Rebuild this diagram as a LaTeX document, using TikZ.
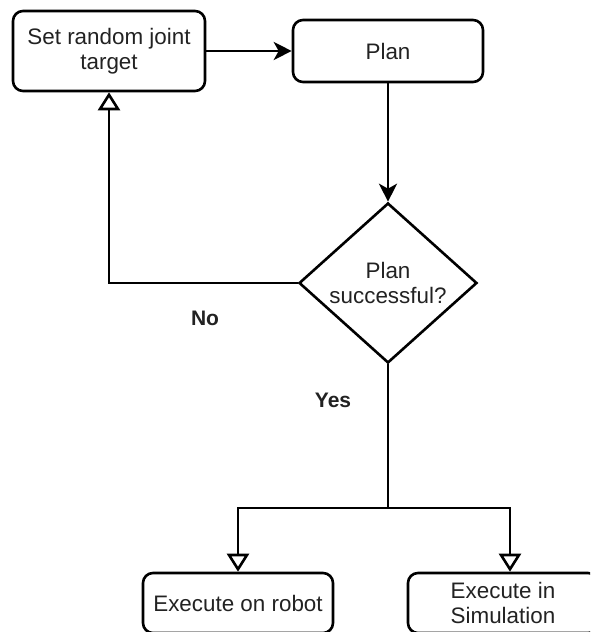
\documentclass[tikz,border=0pt]{standalone}
\usepackage{fontspec}
\setmainfont{Liberation Sans}
\usetikzlibrary{shapes.geometric,arrows.meta}
\definecolor{txt}{HTML}{222222}
\begin{document}
\begin{tikzpicture}[x=1pt,y=1pt,
  every node/.style={font=\fontsize{22.4}{25}\selectfont, text=txt},
  box/.style={draw, line width=2.6pt, rounded corners=10pt, align=center, inner sep=0pt},
  dec/.style={draw, line width=2.6pt, diamond, aspect=1.1125, minimum width=178pt, minimum height=160pt, inner sep=0pt, align=center},
  ln/.style={line width=2.6pt},
  fillarrow/.style={ln, -{Stealth[length=18pt,width=18pt,inset=5pt]}},
  openarrow/.style={ln, -{Triangle[open,length=18pt,width=22pt]}},
  lbl/.style={font=\fontsize{21}{24}\selectfont\bfseries}
]
\useasboundingbox (0,0) rectangle (590,632);
\clip (0,0) rectangle (590,632);
\node[box, minimum width=192pt, minimum height=80pt] (b1) at (109,581) {Set random joint\\target};
\node[box, minimum width=190pt, minimum height=62pt] (b2) at (388,581) {Plan};
\node[dec] (d) at (388,349) {Plan\\successful?};
\node[box, minimum width=190pt, minimum height=60pt] (b3) at (238,29) {Execute on robot};
\node[box, minimum width=190pt, minimum height=60pt] (b4) at (503,29) {Execute in\\Simulation};
\coordinate (split) at (388,124);
\coordinate (b4in) at ([xshift=7pt]b4.north);
\node[lbl] (no) at (205,314) {No};
\node[lbl] (yes) at (333,232) {Yes};
\draw[fillarrow] (b1) -- (b2);
\draw[fillarrow] (b2) -- (d.north);
\draw[openarrow] (d.west) -| (b1.south);
\draw[ln] (d.south) -- (split);
\draw[openarrow] (split) -| (b3.north);
\draw[openarrow] (split) -| (b4in);
\end{tikzpicture}
\end{document}
